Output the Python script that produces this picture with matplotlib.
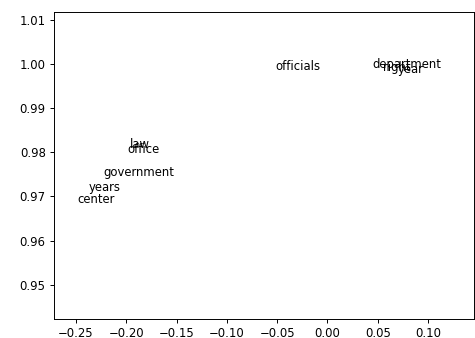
import matplotlib
matplotlib.use('Agg')
import matplotlib.pyplot as plt

# word embedding coordinates
words = ['law', 'office', 'government', 'years', 'center',
         'officials', 'department', 'right', 'year']
xs = [-0.196, -0.199, -0.223, -0.237, -0.249, -0.052, 0.045, 0.055, 0.070]
ys = [0.9810, 0.9799, 0.9747, 0.9713, 0.9686, 0.9986, 0.9991, 0.9984, 0.9980]

fig = plt.figure(figsize=(4.75, 3.38), dpi=100)
ax = fig.add_axes([0.1137, 0.0572, 0.8843, 0.9073])

for w, x, y in zip(words, xs, ys):
    ax.text(x, y, w, fontsize=8.4)

ax.set_xlim(-0.2719, 0.1457)
ax.set_ylim(0.9423, 1.0118)
ax.set_xticks([-0.25, -0.20, -0.15, -0.10, -0.05, 0.00, 0.05, 0.10])
ax.set_yticks([0.95, 0.96, 0.97, 0.98, 0.99, 1.00, 1.01])
ax.tick_params(labelsize=8.4, length=3, pad=3, width=0.7)
for s in ax.spines.values():
    s.set_linewidth(0.7)

fig.savefig('out.png', dpi=100)
